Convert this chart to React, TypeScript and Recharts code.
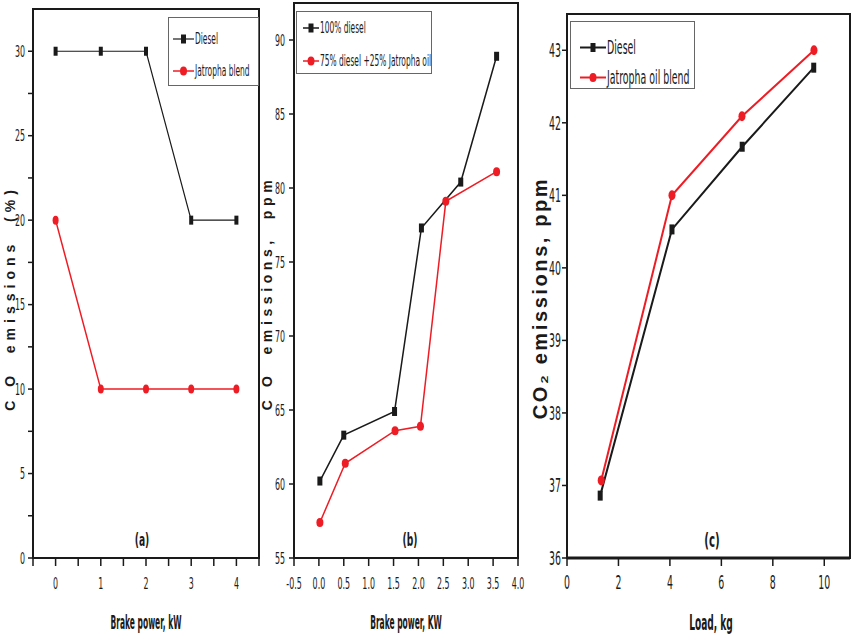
import React from "react";
import { LineChart, Line, XAxis, YAxis, ReferenceArea, Legend } from "recharts";

const NARROW = '"Liberation Sans Narrow", "DejaVu Sans Condensed", Arial, sans-serif';
const WIDE = '"Liberation Sans", Arial, sans-serif';
const BLACK = "#1a1a1a";
const RED = "#ee1c24";

// (a) CO emissions (%) vs brake power
const A_POWER = [0, 1, 2, 3, 4];
const A_DIESEL = [30, 30, 30, 20, 20];
const A_JATROPHA = [20, 10, 10, 10, 10];
const A_X_TICKS = [-0.5, 0, 0.5, 1, 1.5, 2, 2.5, 3, 3.5, 4, 4.5];
const A_Y_TICKS = [0, 2.5, 5, 7.5, 10, 12.5, 15, 17.5, 20, 22.5, 25, 27.5, 30];

// (b) CO emissions (ppm) vs brake power
const B_DIESEL_POWER = [0.02, 0.5, 1.52, 2.06, 2.85, 3.57];
const B_DIESEL = [60.2, 63.3, 64.9, 77.3, 80.4, 88.9];
const B_BLEND_POWER = [0.02, 0.53, 1.53, 2.04, 2.55, 3.57];
const B_BLEND = [57.4, 61.4, 63.6, 63.9, 79.1, 81.1];
const B_X_TICKS = [-0.5, 0, 0.5, 1, 1.5, 2, 2.5, 3, 3.5, 4];
const B_X_LABELS = ["-0.5", "0.0", "0.5", "1.0", "1.5", "2.0", "2.5", "3.0", "3.5", "4.0"];
const B_Y_TICKS = [55, 60, 65, 70, 75, 80, 85, 90];

// (c) CO2 emissions vs load
const C_DIESEL_LOAD = [1.29, 4.08, 6.81, 9.59];
const C_DIESEL = [36.86, 40.53, 41.67, 42.76];
const C_BLEND_LOAD = [1.33, 4.08, 6.8, 9.6];
const C_BLEND = [37.07, 41.0, 42.09, 43.0];
const C_X_TICKS = [0, 2, 4, 6, 8, 10];
const C_Y_TICKS = [36, 37, 38, 39, 40, 41, 42, 43];

type Kind = "square" | "circle";
type Series = { name: string; xs: number[]; ys: number[]; color: string; kind: Kind; width: number };

const toPoints = (xs: number[], ys: number[]) => xs.map((x, i) => ({ x, y: ys[i] }));

function makeDot(kind: Kind, color: string, w: number, h: number) {
  return (props: any) => {
    const { cx, cy, index } = props;
    if (kind === "square")
      return <rect key={index} x={cx - w / 2} y={cy - h / 2} width={w} height={h} fill={color} />;
    return <ellipse key={index} cx={cx} cy={cy} rx={w / 2} ry={h / 2} fill={color} />;
  };
}

function makeTick(axis: "x" | "y", size: number, show: (v: number) => boolean, fmt?: (v: number) => string) {
  return (props: any) => {
    const { x, y, payload } = props;
    if (!show(payload.value)) return <g />;
    return (
      <g transform={`translate(${x},${y}) scale(0.55,1)`}>
        <text
          x={0}
          y={0}
          dy={axis === "x" ? size * 0.75 : size * 0.36}
          textAnchor={axis === "x" ? "middle" : "end"}
          fontFamily={NARROW}
          fontSize={size}
          fill={BLACK}
        >
          {fmt ? fmt(payload.value) : payload.value}
        </text>
      </g>
    );
  };
}

function LegendBox({ items, icon, textSize, textScale, rows, width, height }: any) {
  return (
    <div style={{ position: "relative", width, height, border: "1px solid #666", background: "#fff", boxSizing: "border-box" }}>
      {items.map((s: Series, i: number) => (
        <div key={s.name} style={{ position: "absolute", left: 0, top: rows[i] - textSize / 2 - 1, height: textSize + 2, whiteSpace: "nowrap" }}>
          <svg width={icon.w + icon.x} height={textSize + 2} style={{ position: "absolute", left: 0, top: 0 }}>
            <line x1={icon.x} x2={icon.x + icon.w} y1={textSize / 2 + 1} y2={textSize / 2 + 1} stroke={s.color} strokeWidth={s.width} />
            {s.kind === "square" ? (
              <rect x={icon.x + icon.w / 2 - 2.5} y={textSize / 2 + 1 - 4.5} width={5} height={9} fill={s.color} />
            ) : (
              <ellipse cx={icon.x + icon.w / 2} cy={textSize / 2 + 1} rx={3.5} ry={4.5} fill={s.color} />
            )}
          </svg>
          <span
            style={{
              position: "absolute",
              left: icon.x + icon.w + 1,
              top: 0,
              fontFamily: NARROW,
              fontSize: textSize,
              lineHeight: `${textSize + 2}px`,
              color: BLACK,
              transform: `scaleX(${textScale})`,
              transformOrigin: "left center",
            }}
          >
            {s.name}
          </span>
        </div>
      ))}
    </div>
  );
}

type PanelProps = {
  left: number;
  width: number;
  plotLeft: number;
  plotTop: number;
  plotRight: number;
  xDomain: [number, number];
  yDomain: [number, number];
  xTicks: number[];
  yTicks: number[];
  showX: (v: number) => boolean;
  showY: (v: number) => boolean;
  xFmt?: (v: number) => string;
  tickSize: number;
  xTickMargin: number;
  yTickMargin: number;
  axisWidth: number;
  series: Series[];
  dotSize: { sw: number; sh: number; cw: number; ch: number };
  legend: {
    left: number;
    top: number;
    width: number;
    height: number;
    rows: number[];
    icon: { x: number; w: number };
    textSize: number;
    textScale: number;
  };
};

function Panel(p: PanelProps) {
  const plotBottom = 558;
  const xAxisHeight = 40;
  return (
    <div style={{ position: "absolute", left: p.left, top: 0 }}>
      <LineChart
        width={p.width}
        height={643}
        margin={{ top: p.plotTop, right: p.left + p.width - p.plotRight, left: 0, bottom: 643 - plotBottom - xAxisHeight }}
      >
        <XAxis
          dataKey="x"
          type="number"
          domain={p.xDomain}
          ticks={p.xTicks}
          allowDataOverflow
          height={xAxisHeight}
          tickSize={8}
          tickMargin={p.xTickMargin}
          axisLine={{ stroke: BLACK, strokeWidth: p.axisWidth }}
          tickLine={{ stroke: BLACK, strokeWidth: 1.5 }}
          tick={makeTick("x", p.tickSize, p.showX, p.xFmt)}
          interval={0}
        />
        <YAxis
          dataKey="y"
          type="number"
          domain={p.yDomain}
          ticks={p.yTicks}
          allowDataOverflow
          width={p.plotLeft - p.left}
          tickSize={5}
          tickMargin={p.yTickMargin}
          axisLine={{ stroke: BLACK, strokeWidth: 2 }}
          tickLine={{ stroke: BLACK, strokeWidth: 1.5 }}
          tick={makeTick("y", p.tickSize, p.showY)}
          interval={0}
        />
        <ReferenceArea
          x1={p.xDomain[0]}
          x2={p.xDomain[1]}
          y1={p.yDomain[0]}
          y2={p.yDomain[1]}
          fill="none"
          stroke={BLACK}
          strokeWidth={2}
          ifOverflow="visible"
        />
        {p.series.map((s) => (
          <Line
            key={s.name}
            name={s.name}
            data={toPoints(s.xs, s.ys)}
            dataKey="y"
            type="linear"
            stroke={s.color}
            strokeWidth={s.width}
            dot={s.kind === "square" ? makeDot("square", s.color, p.dotSize.sw, p.dotSize.sh) : makeDot("circle", s.color, p.dotSize.cw, p.dotSize.ch)}
            activeDot={false}
            isAnimationActive={false}
          />
        ))}
        <Legend
          layout="vertical"
          align="center"
          verticalAlign="middle"
          wrapperStyle={{ left: p.legend.left - p.left, top: p.legend.top, width: p.legend.width, height: p.legend.height }}
          content={() => (
            <LegendBox
              items={p.series}
              icon={p.legend.icon}
              textSize={p.legend.textSize}
              textScale={p.legend.textScale}
              rows={p.legend.rows}
              width={p.legend.width}
              height={p.legend.height}
            />
          )}
        />
      </LineChart>
    </div>
  );
}

function Text({ x, y, children, size, bold = true, family = NARROW, rotate = false, scale = 1, spacing = 0 }: any) {
  return (
    <div
      style={{
        position: "absolute",
        left: x,
        top: y,
        transform: `translate(-50%,-50%) ${rotate ? "rotate(-90deg)" : ""} scaleX(${scale})`,
        whiteSpace: "pre",
        fontFamily: family,
        fontSize: size,
        fontWeight: bold ? 700 : 400,
        letterSpacing: spacing,
        color: BLACK,
        lineHeight: 1,
      }}
    >
      {children}
    </div>
  );
}

const isInt = (v: number) => Number.isInteger(v);
const isFive = (v: number) => v % 5 === 0;
const always = () => true;
const bLabel = (v: number) => B_X_LABELS[B_X_TICKS.indexOf(v)] ?? String(v);

export default function App() {
  return (
    <div style={{ position: "absolute", left: 0, top: 0, width: 855, height: 643, background: "#fff", overflow: "hidden" }}>
      <Panel
        left={0}
        width={270}
        plotLeft={33}
        plotTop={9}
        plotRight={259}
        xDomain={[-0.5, 4.5]}
        yDomain={[0, 32.5]}
        xTicks={A_X_TICKS}
        yTicks={A_Y_TICKS}
        showX={isInt}
        showY={isFive}
        tickSize={16}
        xTickMargin={11}
        yTickMargin={3}
        axisWidth={2}
        series={[
          { name: "Diesel", xs: A_POWER, ys: A_DIESEL, color: BLACK, kind: "square", width: 1.2 },
          { name: "Jatropha blend", xs: A_POWER, ys: A_JATROPHA, color: RED, kind: "circle", width: 1.5 },
        ]}
        dotSize={{ sw: 4, sh: 9, cw: 6, ch: 9 }}
        legend={{ left: 168, top: 17, width: 91, height: 69, rows: [21, 53], icon: { x: 4, w: 21 }, textSize: 16, textScale: 0.52 }}
      />
      <Panel
        left={262}
        width={264}
        plotLeft={294}
        plotTop={3}
        plotRight={518}
        xDomain={[-0.5, 4]}
        yDomain={[55, 92.5]}
        xTicks={B_X_TICKS}
        yTicks={B_Y_TICKS}
        showX={always}
        showY={always}
        xFmt={bLabel}
        tickSize={16}
        xTickMargin={11}
        yTickMargin={4}
        axisWidth={2}
        series={[
          { name: "100% diesel", xs: B_DIESEL_POWER, ys: B_DIESEL, color: BLACK, kind: "square", width: 1.5 },
          { name: "75% diesel +25% Jatropha oil", xs: B_BLEND_POWER, ys: B_BLEND, color: RED, kind: "circle", width: 1.5 },
        ]}
        dotSize={{ sw: 5, sh: 9, cw: 7, ch: 9 }}
        legend={{ left: 296, top: 11, width: 136, height: 63, rows: [16, 49], icon: { x: 6, w: 16 }, textSize: 16, textScale: 0.52 }}
      />
      <Panel
        left={530}
        width={325}
        plotLeft={567}
        plotTop={14}
        plotRight={850}
        xDomain={[0, 11]}
        yDomain={[36, 43.5]}
        xTicks={C_X_TICKS}
        yTicks={C_Y_TICKS}
        showX={always}
        showY={always}
        tickSize={19}
        xTickMargin={9}
        yTickMargin={1}
        axisWidth={3}
        series={[
          { name: "Diesel", xs: C_DIESEL_LOAD, ys: C_DIESEL, color: BLACK, kind: "square", width: 2 },
          { name: "Jatropha oil blend", xs: C_BLEND_LOAD, ys: C_BLEND, color: RED, kind: "circle", width: 2 },
        ]}
        dotSize={{ sw: 5, sh: 10, cw: 7, ch: 10 }}
        legend={{ left: 570, top: 21, width: 125, height: 68, rows: [25, 55], icon: { x: 9, w: 26 }, textSize: 19, textScale: 0.55 }}
      />

      <Text x={10} y={298} size={14} family={WIDE} rotate spacing={5}>C O  emissions  (%)</Text>
      <Text x={267} y={293} size={14} family={WIDE} rotate spacing={4.6}>C O  emissions,  ppm</Text>
      <Text x={540} y={298} size={20} family={WIDE} rotate spacing={2.6}>CO₂ emissions, ppm</Text>

      <Text x={146} y={622} size={19} scale={0.44}>Brake power, kW</Text>
      <Text x={406} y={622} size={19} scale={0.44}>Brake power, KW</Text>
      <Text x={711} y={623} size={21} scale={0.48}>Load, kg</Text>

      <Text x={142} y={540} size={17} scale={0.6}>(a)</Text>
      <Text x={410} y={540} size={17} scale={0.6}>(b)</Text>
      <Text x={712} y={540} size={19} scale={0.6}>(c)</Text>
    </div>
  );
}
